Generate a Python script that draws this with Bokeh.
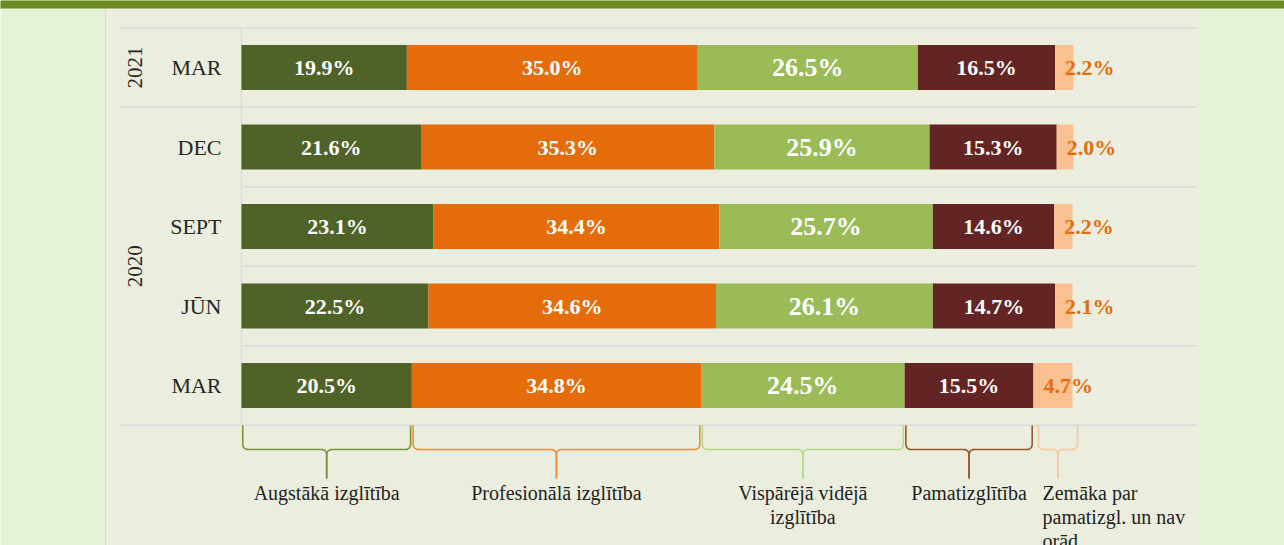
import math
from bokeh.plotting import figure
from bokeh.models import Range1d, ColumnDataSource
from bokeh.core.properties import value
from bokeh.embed import file_html
from bokeh.resources import INLINE

# ---------------- data (bottom to top) ----------------
periods = ["MAR", "JŪN", "SEPT", "DEC", "MAR"]
years = ["2020", "2021"]
year_members = [[0, 1, 2, 3], [4]]
series_names = ["Augstākā izglītība", "Profesionālā izglītība",
                "Vispārējā vidējā\nizglītība", "Pamatizglītība",
                "Zemāka par\npamatizgl. un nav\norād"]
augst = [20.5, 22.5, 23.1, 21.6, 19.9]
prof = [34.8, 34.6, 34.4, 35.3, 35.0]
visp = [24.5, 26.1, 25.7, 25.9, 26.5]
pamat = [15.5, 14.7, 14.6, 15.3, 16.5]
zem = [4.7, 2.1, 2.2, 2.0, 2.2]
series = [augst, prof, visp, pamat, zem]

colors = ["#4f6228", "#e46c0a", "#9bbb59", "#632523", "#fac090"]
brace_colors = ["#77933c", "#f08a3a", "#b2db86", "#98582c", "#f8c7a0"]
label_colors = ["white", "white", "white", "white", "#e46c0a"]
label_sizes = ["22px", "22px", "26px", "22px", "22px"]

# ---------------- geometry ----------------
W, H = 1284, 545
X0_PX = 241.0        # px of 0 %
PX_PCT = 8.31        # px per percent
Y0_PX = 385.0        # px (from top) of first category
PX_CAT = 79.5        # px per category


def X(px):
    return (px - X0_PX) / PX_PCT


def Y(py):
    return (Y0_PX - py) / PX_CAT


p = figure(width=W, height=H, output_backend="svg", toolbar_location=None,
           x_range=Range1d(-X0_PX / PX_PCT, (W - X0_PX) / PX_PCT),
           y_range=Range1d(-(H - Y0_PX) / PX_CAT, Y0_PX / PX_CAT),
           x_axis_type=None, y_axis_type=None, min_border=0)
p.outline_line_color = None
p.background_fill_color = "#e6f2d6"
p.border_fill_color = "#e6f2d6"
p.xgrid.visible = False
p.ygrid.visible = False

# panel and top band
p.quad(left=X(105), right=X(1197), bottom=Y(560), top=Y(8),
       fill_color="#ebeede", line_color=None)
p.segment(x0=X(105), x1=X(105), y0=Y(8), y1=Y(560), line_color="#d8dec8", line_width=1)
p.quad(left=X(-5), right=X(1300), bottom=Y(8), top=Y(-5),
       fill_color="#6b8a22", line_color=None)

n = len(periods)
ys = list(range(n))

# grid lines (category boundaries)
group_bounds = set()
for mem in year_members:
    group_bounds.add(min(mem) - 0.5)
    group_bounds.add(max(mem) + 0.5)
for k in range(n + 1):
    b = k - 0.5
    x_start = X(120) if b in group_bounds else 0
    p.segment(x0=x_start, x1=X(1197), y0=b, y1=b, line_color="#d9d9d9", line_width=1.3)
p.segment(x0=0, x1=0, y0=-0.5, y1=n - 0.5, line_color="#d9d9d9", line_width=1.3)

# stacked bars
left = [0.0] * n
for s, vals in enumerate(series):
    right = [l + v for l, v in zip(left, vals)]
    src = ColumnDataSource(dict(y=ys, left=left, right=right,
                                mid=[(l + r) / 2 for l, r in zip(left, right)],
                                lx=[l + 1.2 for l in left],
                                lab=[f"{v:.1f}%" for v in vals]))
    p.hbar(y="y", left="left", right="right", height=0.565, source=src,
           fill_color=colors[s], line_color=None)
    last = s == len(series) - 1
    p.text(x="lx" if last else "mid", y="y", text="lab", source=src,
           text_align="left" if last else "center",
           text_baseline="middle", text_color=label_colors[s],
           text_font=value("Liberation Serif"), text_font_style="bold",
           text_font_size=label_sizes[s])
    left = right

# category axis labels
p.text(x=[X(221)] * n, y=ys, text=periods, text_align="right", text_baseline="middle",
       text_color="#262626", text_font=value("Liberation Serif"), text_font_size="22px")
yc = [sum(m) / len(m) for m in year_members]
p.text(x=[X(134)] * len(years), y=yc, text=years, angle=math.pi / 2,
       text_align="center", text_baseline="middle", text_color="#262626",
       text_font=value("Liberation Serif"), text_font_size="21px")

# braces under the bars (span of first category's segments)
base = [v[0] for v in series]
cum = [0.0]
for v in base:
    cum.append(cum[-1] + v)
ytop, yh, ytip = Y(425), Y(449), Y(478)
r_px = 5.0
rx, ry = r_px / PX_PCT, r_px / PX_CAT


def arc(cx, cy, a0, a1, steps=8):
    pts = []
    for i in range(steps + 1):
        a = a0 + (a1 - a0) * i / steps
        pts.append((cx + rx * math.cos(a), cy + ry * math.sin(a)))
    return pts


for s in range(len(series)):
    xl = cum[s] + 0.15
    xr = cum[s + 1] - 0.15
    if s == len(series) - 1:
        xl, xr = cum[s] + 0.6, cum[s + 1] + 0.6
    xm = (xl + xr) / 2
    pts = [(xl, ytop)]
    pts += arc(xl + rx, yh + ry, math.pi, 1.5 * math.pi)
    pts += arc(xm - rx, yh - ry, 0.5 * math.pi, 0)
    pts += [(xm, ytip)]
    pts2 = [(xr, ytop)]
    pts2 += arc(xr - rx, yh + ry, 0, -0.5 * math.pi)
    pts2 += arc(xm + rx, yh - ry, 0.5 * math.pi, math.pi)
    pts2 += [(xm, ytip)]
    p.multi_line(xs=[[q[0] for q in pts], [q[0] for q in pts2]],
                 ys=[[q[1] for q in pts], [q[1] for q in pts2]],
                 line_color=brace_colors[s], line_width=1.6)
    last = s == len(series) - 1
    p.text(x=[X(1042)] if last else [xm], y=[Y(481)], text=[series_names[s]],
           text_align="left" if last else "center",
           text_baseline="top", text_color="#1f1f1f",
           text_font=value("Liberation Serif"), text_font_size="20px",
           text_line_height=1.1)

open("out.html", "w").write(file_html(p, INLINE))
